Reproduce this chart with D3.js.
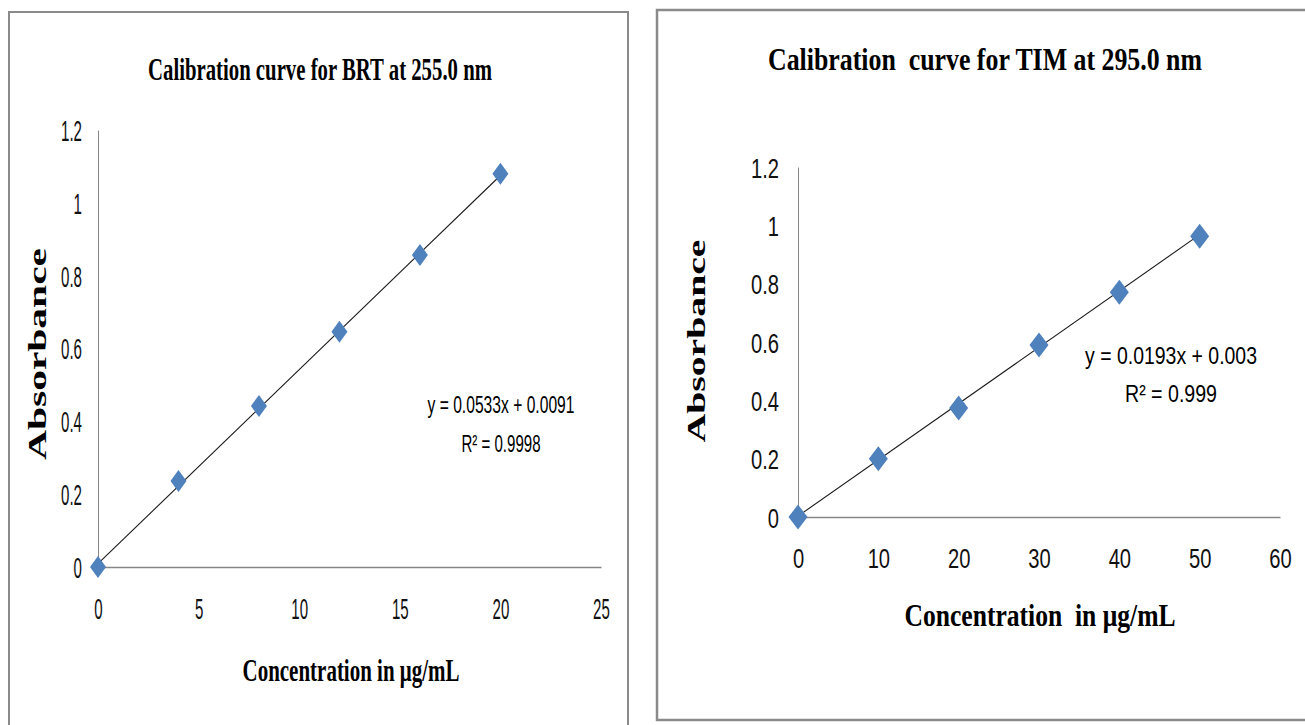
<!DOCTYPE html>
<html><head><meta charset="utf-8">
<script src="https://cdn.jsdelivr.net/npm/d3@7/dist/d3.min.js"></script>
<style>body{margin:0;background:#fff;} svg{display:block;}</style>
</head><body>
<svg id="c" width="1305" height="725"></svg>
<script>
// ---- data ----
const brtConc = [0, 4, 8, 12, 16, 20];
const brtAbs = [0, 0.236, 0.442, 0.646, 0.857, 1.08];
const brtFit = [0.0533, 0.0091];
const brtEq = ["y = 0.0533x + 0.0091", "R² = 0.9998"];
const brtXTicks = [0, 5, 10, 15, 20, 25];
const brtTitle = "Calibration curve for BRT at 255.0 nm";

const timConc = [0, 10, 20, 30, 40, 50];
const timAbs = [0, 0.2, 0.374, 0.59, 0.771, 0.963];
const timFit = [0.0193, 0.003];
const timEq = ["y = 0.0193x + 0.003", "R² = 0.999"];
const timXTicks = [0, 10, 20, 30, 40, 50, 60];
const timTitle = "Calibration  curve for TIM at 295.0 nm";

const yTicks = [0, 0.2, 0.4, 0.6, 0.8, 1, 1.2];
const xTitle = "Concentration in μg/mL";
const xTitle2 = "Concentration  in μg/mL";
const yTitle = "Absorbance";

const svg = d3.select("#c");
const serif = "'Liberation Serif','Times New Roman',serif";
const sans = "'Liberation Sans Narrow','Liberation Sans',Arial,sans-serif";

// panel borders
svg.append("rect").attr("x", 9).attr("y", 12).attr("width", 619).attr("height", 740)
  .attr("fill", "none").attr("stroke", "#8a8a8a").attr("stroke-width", 2);
svg.append("rect").attr("x", 657).attr("y", 10).attr("width", 700).attr("height", 710)
  .attr("fill", "none").attr("stroke", "#8a8a8a").attr("stroke-width", 2.5);

function fitText(g, txt, x, y, width, opts) {
  const t = g.append("text").attr("x", x).attr("y", y).text(txt)
    .attr("text-anchor", "middle").attr("xml:space", "preserve")
    .attr("font-family", opts.family).attr("font-size", opts.size)
    .attr("font-weight", opts.weight || "normal").attr("fill", "#000")
    .attr("textLength", width).attr("lengthAdjust", "spacingAndGlyphs");
  if (opts.rotate) t.attr("transform", `rotate(-90,${x},${y})`);
  return t;
}

function squeeze(sel, factor) {
  sel.each(function () {
    const n = this.getComputedTextLength();
    d3.select(this).attr("textLength", n * factor).attr("lengthAdjust", "spacingAndGlyphs");
  });
}

function chart(cfg) {
  const g = svg.append("g");
  const x = d3.scaleLinear().domain([0, cfg.xMax]).range([cfg.x0, cfg.x1]);
  const y = d3.scaleLinear().domain([0, 1.2]).range([cfg.y0, cfg.y1]);

  // y axis
  const ya = g.append("g").attr("transform", `translate(${cfg.x0},0)`)
    .call(d3.axisLeft(y).tickValues(yTicks).tickSize(0).tickPadding(cfg.yPad).tickFormat(d => String(d)));
  ya.select(".domain").attr("stroke", "#868686").attr("stroke-width", 1);
  ya.selectAll("text").attr("font-family", sans).attr("font-size", cfg.yTickSize).attr("fill", "#111").attr("dy", "0.36em");
  squeeze(ya.selectAll("text"), cfg.yFactor);

  // x axis
  const xa = g.append("g").attr("transform", `translate(0,${cfg.y0})`)
    .call(d3.axisBottom(x).tickValues(cfg.xTicks).tickSize(0).tickPadding(cfg.xPad).tickFormat(d => String(d)));
  xa.select(".domain").attr("stroke", "#868686").attr("stroke-width", 1.5);
  xa.selectAll("text").attr("font-family", sans).attr("font-size", cfg.xTickSize).attr("fill", "#111");
  squeeze(xa.selectAll("text"), cfg.xFactor);

  // trendline
  const xs = [0, d3.max(cfg.conc)];
  g.append("line")
    .attr("x1", x(xs[0])).attr("y1", y(cfg.fit[0] * xs[0] + cfg.fit[1]))
    .attr("x2", x(xs[1])).attr("y2", y(cfg.fit[0] * xs[1] + cfg.fit[1]))
    .attr("stroke", "#1a1a1a").attr("stroke-width", 1.1);

  // markers (diamonds)
  const w = cfg.mw / 2, h = cfg.mh / 2;
  g.selectAll("path.m").data(cfg.conc.map((c, i) => [c, cfg.abs[i]])).join("path")
    .attr("class", "m")
    .attr("d", d => `M${x(d[0])},${y(d[1]) - h}L${x(d[0]) + w},${y(d[1])}L${x(d[0])},${y(d[1]) + h}L${x(d[0]) - w},${y(d[1])}Z`)
    .attr("fill", "#4F81BD");

  // texts
  fitText(g, cfg.title, cfg.titleX, cfg.titleY, cfg.titleW, {family: serif, size: 32, weight: "bold"});
  fitText(g, cfg.xTitle, cfg.xtX, cfg.xtY, cfg.xtW, {family: serif, size: 32, weight: "bold"});
  fitText(g, yTitle, cfg.ytX, cfg.ytY, cfg.ytW, {family: serif, size: 25, weight: "bold", rotate: true});
  fitText(g, cfg.eq[0], cfg.eqX, cfg.eqY1, cfg.eqW1, {family: sans, size: 24});
  fitText(g, cfg.eq[1], cfg.eqX, cfg.eqY2, cfg.eqW2, {family: sans, size: 24});
}

chart({
  conc: brtConc, abs: brtAbs, fit: brtFit, eq: brtEq, xTicks: brtXTicks, xMax: 25,
  x0: 98, x1: 601, y0: 567, y1: 130,
  yTickSize: 29, xTickSize: 29, yPad: 16, xPad: 31, yFactor: 0.52, xFactor: 0.52,
  mw: 16, mh: 22,
  title: brtTitle, titleX: 320, titleY: 80, titleW: 344,
  xTitle: xTitle, xtX: 351, xtY: 681, xtW: 217,
  ytX: 46, ytY: 354, ytW: 212,
  eqX: 501, eqY1: 413, eqW1: 147, eqY2: 452, eqW2: 79
});

chart({
  conc: timConc, abs: timAbs, fit: timFit, eq: timEq, xTicks: timXTicks, xMax: 60,
  x0: 798, x1: 1280, y0: 517, y1: 167,
  yTickSize: 28, xTickSize: 28, yPad: 19, xPad: 31, yFactor: 0.72, xFactor: 0.72,
  mw: 19, mh: 25,
  title: timTitle, titleX: 985, titleY: 70, titleW: 434,
  xTitle: xTitle2, xtX: 1040, xtY: 626, xtW: 271,
  ytX: 705, ytY: 341, ytW: 203,
  eqX: 1171, eqY1: 364, eqW1: 172, eqY2: 402, eqW2: 92
});
</script>
</body></html>
